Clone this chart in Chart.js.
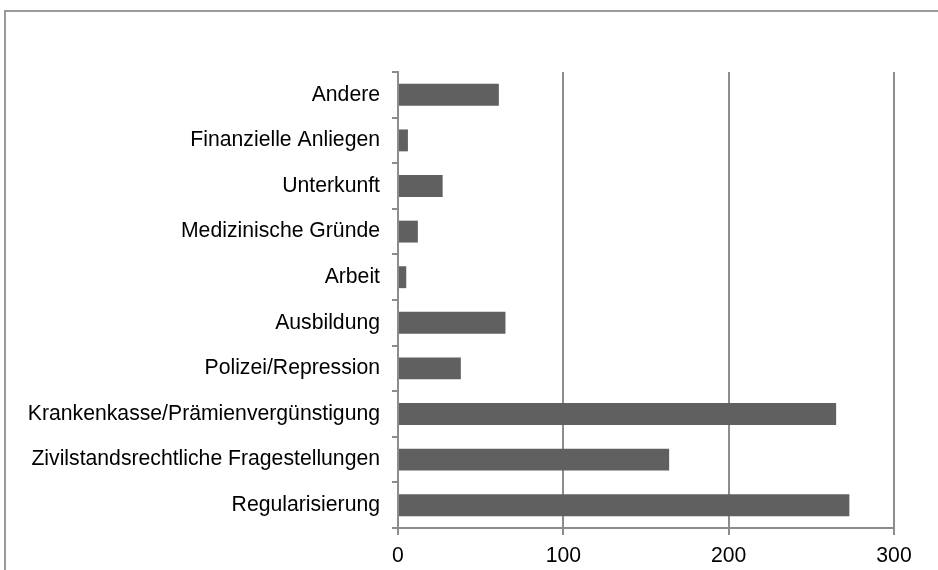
<!DOCTYPE html>
<html>
<head>
<meta charset="utf-8">
<script src="https://cdn.jsdelivr.net/npm/chart.js@4/dist/chart.umd.min.js"></script>
<style>
    body { margin: 0; background: #fff; }
    #frame { position: absolute; left: 4px; top: 10px; width: 1000px; height: 600px; border-left: 2px solid #9a9a9a; border-top: 2px solid #9a9a9a; }
    #wrap { position: absolute; left: 0; top: 0; width: 938px; height: 570px; }
</style>
</head>
<body>
<div id="frame"></div>
<div id="wrap"><canvas id="chart" width="938" height="570"></canvas></div>
<script>
const categories = [
    'Andere',
    'Finanzielle Anliegen',
    'Unterkunft',
    'Medizinische Gründe',
    'Arbeit',
    'Ausbildung',
    'Polizei/Repression',
    'Krankenkasse/Prämienvergünstigung',
    'Zivilstandsrechtliche Fragestellungen',
    'Regularisierung'
];
const counts = [61, 6, 27, 12, 5, 65, 38, 265, 164, 273];
const xTicks = [0, 100, 200, 300];

const gridGrey = '#8c8c8c';
const barGrey = '#606060';
const fontSpec = { family: '"Liberation Sans", Arial, sans-serif', size: 21.2 };

new Chart(document.getElementById('chart'), {
    type: 'bar',
    data: {
        labels: categories,
        datasets: [{
            data: counts,
            backgroundColor: barGrey,
            borderWidth: 0,
            barPercentage: 0.48,
            categoryPercentage: 1
        }]
    },
    options: {
        indexAxis: 'y',
        responsive: false,
        animation: false,
        layout: { padding: { top: 72, right: 44, left: 0, bottom: 0 } },
        plugins: { legend: { display: false }, tooltip: { enabled: false } },
        scales: {
            x: {
                min: 0, max: 300,
                afterBuildTicks: scale => { scale.ticks = xTicks.map(v => ({ value: v })); },
                afterFit: scale => { scale.height = 42; },
                grid: { color: gridGrey, lineWidth: 2, tickLength: 7 },
                border: { color: gridGrey, width: 2 },
                ticks: { color: '#000', font: fontSpec, padding: 8, maxRotation: 0 }
            },
            y: {
                afterFit: scale => { scale.width = 398; },
                grid: { drawOnChartArea: false, color: gridGrey, lineWidth: 2, tickLength: 6, offset: true },
                border: { color: gridGrey, width: 2 },
                ticks: { color: '#000', font: fontSpec, padding: 12, autoSkip: false }
            }
        }
    }
});
</script>
</body>
</html>
